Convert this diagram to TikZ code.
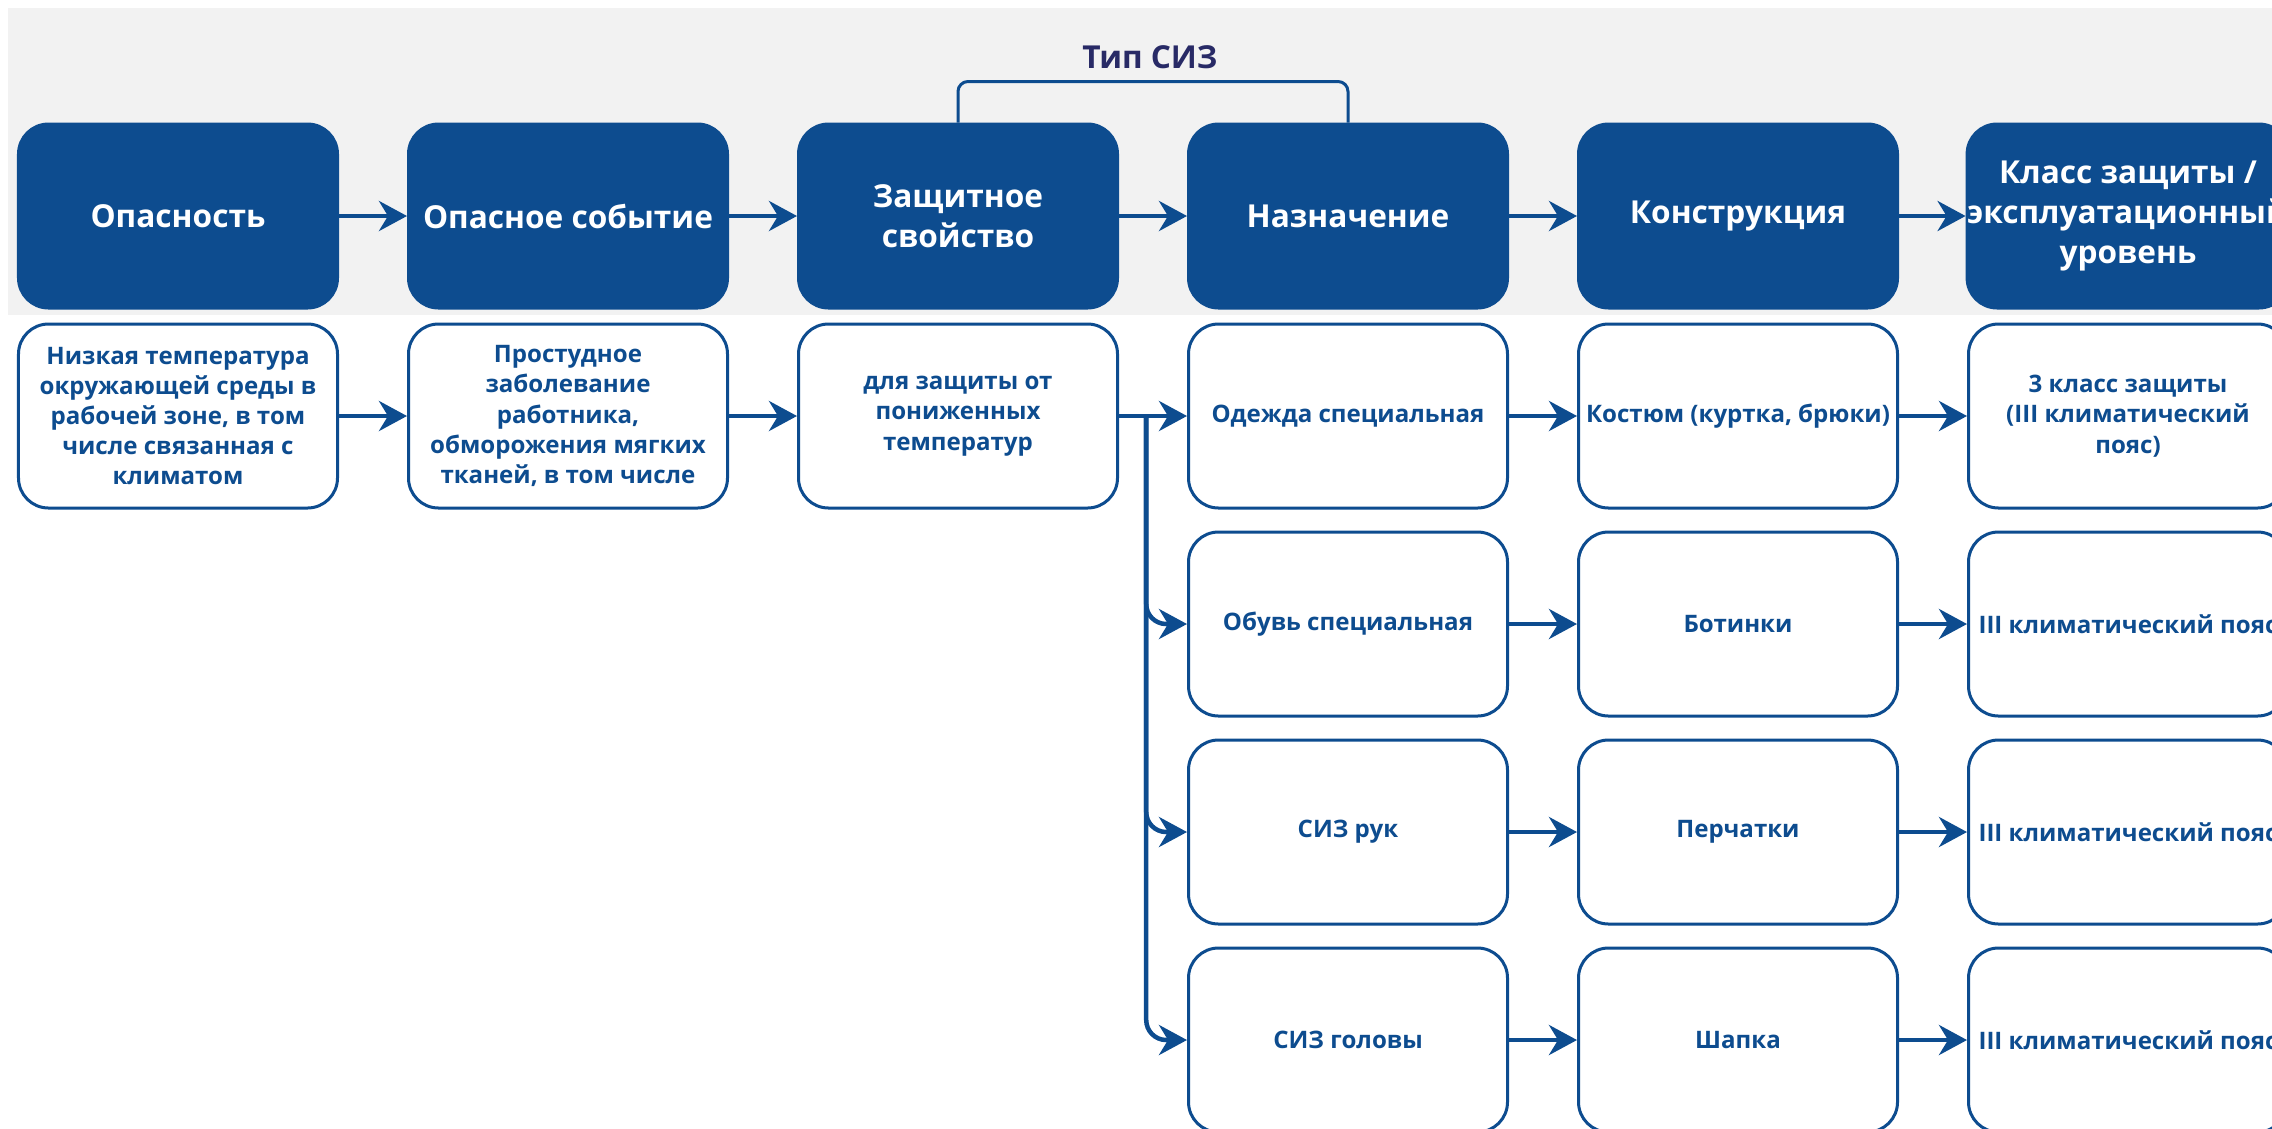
\documentclass[tikz,border=0pt]{standalone}
\usepackage{fontspec}
\setmainfont{Open Sans}
\usetikzlibrary{arrows.meta,calc}
\definecolor{sizblue}{RGB}{13,76,143}
\definecolor{siznavy}{RGB}{40,42,102}
\definecolor{sizgray}{RGB}{242,242,242}

\begin{document}
\begin{tikzpicture}[
    headbox/.style={draw=sizblue, fill=sizblue, line width=0.3mm, rounded corners=3mm,
        minimum width=3.19cm, minimum height=1.84cm, inner sep=0pt, align=center,
        text=white, font=\fontsize{9}{11.4}\selectfont\bfseries},
    itembox/.style={draw=sizblue, fill=white, line width=0.3mm, rounded corners=3mm,
        minimum width=3.19cm, minimum height=1.84cm, inner sep=0pt, align=center,
        text=sizblue, font=\fontsize{6.85}{8.6}\selectfont\bfseries},
    flow/.style={draw=sizblue, line width=0.45mm, -{Stealth[length=2.8mm, width=3mm, inset=0.9mm]}},
]
    %%%%% START %%%%%
    
    \clip (0, 0) rectangle (22.72, -11.28);
    \fill[sizgray] (0.08, -0.08) rectangle (22.72, -3.15);
    
    % header row
    \node[headbox] (h1) at (1.78, -2.16) {Опасность};
    \node[headbox] (h2) at (5.68, -2.16) {Опасное событие};
    \node[headbox] (h3) at (9.58, -2.16) {Защитное\\свойство};
    \node[headbox] (h4) at (13.48, -2.16) {Назначение};
    \node[headbox] (h5) at (17.38, -2.16) {Конструкция};
    \node[headbox] (h6) at (21.28, -2.16) {Класс защиты /\\эксплуатационный\\уровень};
    
    \foreach \a/\b in {h1/h2, h2/h3, h3/h4, h4/h5, h5/h6}
        \draw[flow] (\a.east) -- (\b.west);
    
    % type bracket
    \node[text=siznavy, font=\fontsize{9}{11.4}\selectfont\bfseries] (tip) at (11.50, -0.57) {Тип СИЗ};
    \draw[sizblue, line width=0.3mm, rounded corners=1mm] (h3.north) -- ++(0, 0.41) -| (h4.north);
    
    % first chain
    \node[itembox] (a1) at (1.78, -4.16) {Низкая температура\\окружающей среды в\\рабочей зоне, в том\\числе связанная с\\климатом};
    \node[itembox] (a2) at (5.68, -4.16) {Простудное\\заболевание\\работника,\\обморожения мягких\\тканей, в том числе};
    \node[itembox] (a3) at (9.58, -4.16) {для защиты от\\пониженных\\температур};
    
    \draw[flow] (a1.east) -- (a2.west);
    \draw[flow] (a2.east) -- (a3.west);
    
    % kinds of PPE
    \node[itembox] (n1) at (13.48, -4.16) {Одежда специальная};
    \node[itembox] (n2) at (13.48, -6.24) {Обувь специальная};
    \node[itembox] (n3) at (13.48, -8.32) {СИЗ рук};
    \node[itembox] (n4) at (13.48, -10.40) {СИЗ головы};
    
    \node[itembox] (k1) at (17.38, -4.16) {Костюм (куртка, брюки)};
    \node[itembox] (k2) at (17.38, -6.24) {Ботинки};
    \node[itembox] (k3) at (17.38, -8.32) {Перчатки};
    \node[itembox] (k4) at (17.38, -10.40) {Шапка};
    
    \node[itembox] (z1) at (21.28, -4.16) {3 класс защиты\\(III климатический\\пояс)};
    \node[itembox] (z2) at (21.28, -6.24) {\makebox[0pt]{III климатический пояс}};
    \node[itembox] (z3) at (21.28, -8.32) {\makebox[0pt]{III климатический пояс}};
    \node[itembox] (z4) at (21.28, -10.40) {\makebox[0pt]{III климатический пояс}};
    
    \coordinate (fork) at ($(a3.east)!0.4!(n1.west)$);
    \draw[flow] (a3.east) -- (n1.west);
    \foreach \n in {n2, n3, n4}
        \draw[flow, rounded corners=2mm] (fork) |- (\n.west);
    
    \foreach \i in {1, ..., 4}{
        \draw[flow] (n\i.east) -- (k\i.west);
        \draw[flow] (k\i.east) -- (z\i.west);
    }
    
    %%%%% END %%%%%
\end{tikzpicture}
\end{document}
